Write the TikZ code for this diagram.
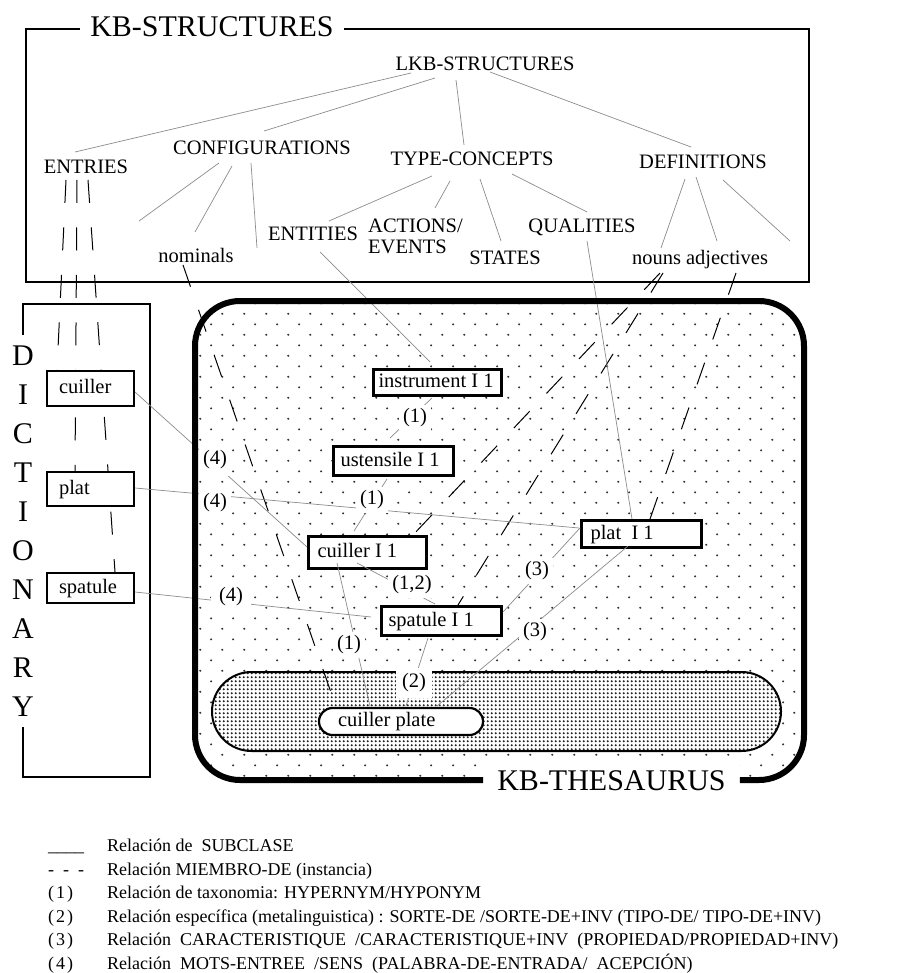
\documentclass[tikz,border=0pt]{standalone}
\usepackage{fontspec}
\setmainfont{Liberation Serif}
\newfontfamily\tnr{Liberation Serif}
\usetikzlibrary{calc,patterns.meta}
\tikzdeclarepattern{
  name=sparsedots,
  type=uncolored,
  bounding box={(0pt,0pt) and (21.7pt,21.4pt)},
  tile size={(21.7pt,21.4pt)},
  code={
    \fill (5.4pt,5.35pt) circle [radius=1.15pt];
    \fill (16.25pt,16.05pt) circle [radius=1.15pt];
  }
}
\tikzdeclarepattern{
  name=densedots,
  type=uncolored,
  bounding box={(0pt,0pt) and (3.7pt,3.7pt)},
  tile size={(3.7pt,3.7pt)},
  code={\fill (1.85pt,1.85pt) circle [radius=1.2pt];}
}
\pgfdeclarelayer{back}
\pgfdeclarelayer{mid}
\pgfsetlayers{back,mid,main}
\begin{document}
\begin{tikzpicture}[x=1pt,y=-1pt,
  lbl/.style={font=\tnr\fontsize{20.5pt}{24pt}\selectfont, inner sep=0pt, anchor=base},
  big/.style={font=\tnr\fontsize{30pt}{36pt}\selectfont, inner sep=0pt, anchor=base},
  gline/.style={draw=black!45, line width=0.7pt},
  dline/.style={draw=black, line width=1pt, dash pattern=on 23pt off 24.5pt},
  dictbox/.style={draw, line width=2.2pt, fill=white, font=\tnr\fontsize{20.5pt}{24pt}\selectfont,
    inner xsep=12pt, text height=14pt, text depth=4pt},
  tbox/.style={draw, line width=2.6pt, fill=white, font=\tnr\fontsize{20.5pt}{24pt}\selectfont,
    inner xsep=7pt, text height=14pt, text depth=4pt},
  rel/.style={fill=white, font=\tnr\fontsize{20.5pt}{24pt}\selectfont, inner xsep=4pt, inner ysep=4pt},
  leg/.style={font=\tnr\fontsize{18pt}{22pt}\selectfont, inner sep=0pt, anchor=base west},
]
\useasboundingbox (0,0) rectangle (906,973);
% ---------- background shapes ----------
\begin{pgfonlayer}{back}
\fill[white] (0,0) rectangle (906,973);
\fill[pattern=sparsedots, pattern color=black!80, rounded corners=45pt] (195,301) rectangle (804,780);
\fill[white, rounded corners=39.5pt] (212,672) rectangle (781,751);
\fill[pattern=densedots, pattern color=black!85, rounded corners=39.5pt] (212,672) rectangle (781,751);
\draw[line width=2pt, rounded corners=39.5pt] (212,672) rectangle (781,751);
\draw[line width=2.5pt] (26,29) rectangle (809,282);
\draw[line width=2.2pt] (23,335) -- (23,304) -- (150,304) -- (150,777) -- (23,777) -- (23,727);
\end{pgfonlayer}
% ---------- frame titles ----------
\node[big, fill=white, inner xsep=10pt, inner ysep=3pt] (kbs) at (212,37) {KB-STRUCTURES};
\node[big, fill=white, inner xsep=14pt, inner ysep=10pt] (kbt) at (611.5,790) {KB-THESAURUS};
\foreach \L [count=\i from 0] in {D,I,C,T,I,O,N,A,R,Y}
  \node[big] (dict\i) at (23,{365+39*\i}) {\L};
% ---------- KB-STRUCTURES tree ----------
\node[lbl] (lkb) at (485,71) {LKB-STRUCTURES};
\node[lbl] (entries) at (86,174) {ENTRIES};
\node[lbl] (config) at (262,155) {CONFIGURATIONS};
\node[lbl] (typec) at (472,166) {TYPE-CONCEPTS};
\node[lbl] (defs) at (703,169) {DEFINITIONS};
\node[lbl] (nomin) at (196,262) {nominals};
\node[lbl] (entit) at (313,241) {ENTITIES};
\node[lbl, anchor=base west] (actions) at (368,233) {ACTIONS/};
\node[lbl, anchor=base west] (events) at (368,254) {EVENTS};
\node[lbl] (states) at (505,265) {STATES};
\node[lbl] (quals) at (582,233) {QUALITIES};
\node[lbl] (nouns) at (656.5,265) {nouns};
\node[lbl] (adjs) at (727,265) {adjectives};
\coordinate (free1) at (139,221);
\coordinate (free2) at (257,248);
\coordinate (free3) at (790,241);
% ---------- dictionary boxes ----------
\node[dictbox, minimum height=35pt] (cuil) at (90.5,388.5) {\makebox[63pt][l]{cuiller}};
\node[dictbox, minimum height=34pt] (platd) at (90.5,489) {\makebox[63pt][l]{plat}};
\node[dictbox, minimum height=30pt] (spad) at (90.5,588) {\makebox[63pt][l]{spatule}};
% ---------- thesaurus boxes ----------
\node[tbox, inner xsep=5pt, minimum height=26.5pt] (inst) at (437.5,382.5) {\makebox[118pt][l]{instrument I 1}};
\node[tbox, minimum height=29.5pt] (ust) at (393.5,461) {\makebox[106pt][l]{ustensile I 1}};
\node[tbox, inner xsep=9pt, minimum height=32.5pt] (cui1) at (367.5,552.5) {\makebox[100pt][l]{cuiller I 1}};
\node[tbox, minimum height=29.5pt] (spa1) at (441.5,621) {\makebox[106pt][l]{spatule I 1}};
\node[tbox, inner xsep=9pt, minimum height=27.5pt] (plat1) at (641.5,534) {\makebox[102pt][l]{plat\ \ I 1}};
\node[draw, line width=2.2pt, fill=white, rounded corners=13.5pt, font=\tnr\fontsize{20.5pt}{24pt}\selectfont,
  inner xsep=19pt, minimum height=27pt, text height=14pt, text depth=4pt]
  (cplate) at (401,721.5) {\makebox[126pt][l]{cuiller plate}};
% ---------- dashed MIEMBRO-DE lines ----------
\begin{pgfonlayer}{mid}
\draw[dline] ($(entries.base)+(-20,6)$) -- ($(cuil.center)+(-33.5,-18.5)$);
\draw[dline] ($(entries.base)+(-9,6)$) -- ($(platd.center)+(-15.5,-18)$);
\draw[dline] ($(entries.base)+(2,6)$) -- ($(spad.center)+(24.5,-16)$);
\draw[dline] ($(nomin.base)+(-13,3)$) -- ($(cplate.center)+(-65,-14.5)$);
\draw[dline] ($(nouns.base)+(3.5,8)$) -- ($(cui1.center)+(45.5,-17.5)$);
\draw[dline] ($(nouns.base)+(6.5,8)$) -- ($(spa1.center)+(16.5,-16)$);
\draw[dline] ($(adjs.base)+(9,8)$) -- ($(plat1.center)+(8.5,-15)$);
\end{pgfonlayer}
% ---------- gray connectors ----------
\draw[gline] ($(lkb.base)+(-74,2)$) -- ($(entries.base)+(-11,-22)$);
\draw[gline] ($(lkb.base)+(-50,7)$) -- ($(config.base)+(2,-24)$);
\draw[gline] ($(lkb.base)+(-29,9)$) -- ($(typec.base)+(-8,-21)$);
\draw[gline] ($(lkb.base)+(5,1)$) -- ($(defs.base)+(-12,-22)$);
\draw[gline] ($(config.base)+(-43,8)$) -- (free1);
\draw[gline] ($(config.base)+(-30,11)$) -- ($(nomin.base)+(-1,-30)$);
\draw[gline] ($(config.base)+(-11,8)$) -- (free2);
\draw[gline] ($(typec.base)+(-40,10)$) -- ($(entit.base)+(16,-20)$);
\draw[gline] ($(typec.base)+(-22,15)$) -- ($(actions.base west)+(67,-25)$);
\draw[gline] ($(typec.base)+(8,13)$) -- ($(states.base)+(-4,-24)$);
\draw[gline] ($(typec.base)+(40,8)$) -- ($(quals.base)+(5,-21)$);
\draw[gline] ($(defs.base)+(-18,10)$) -- ($(nouns.base)+(4.5,-17)$);
\draw[gline] ($(defs.base)+(-7,8)$) -- ($(adjs.base)+(-10,-24)$);
\draw[gline] ($(defs.base)+(20,11)$) -- (free3);
\draw[gline] ($(entit.base)+(7,11)$) -- ($(inst.center)+(-7.5,-20.5)$);
\draw[gline] ($(inst.center)+(-5.5,15.5)$) -- ($(ust.center)+(-3.5,-23)$);
\draw[gline] ($(ust.center)+(-6.5,18)$) -- ($(cui1.center)+(-13.5,-21.5)$);
\draw[gline] ($(cui1.center)+(-10.5,10.5)$) -- ($(spa1.center)+(-6.5,-17)$);
\draw[gline] ($(cui1.center)+(-30.5,10.5)$) -- ($(cplate.center)+(-31,-15.5)$);
\draw[gline] ($(spa1.center)+(-13.5,17)$) -- ($(cplate.center)+(5,-15.5)$);
\draw[gline] ($(plat1.center)+(-61.5,-6)$) -- ($(spa1.center)+(61.5,-9)$);
\draw[gline] ($(plat1.center)+(-13.5,12)$) -- ($(cplate.center)+(36,-15.5)$);
\draw[gline] ($(quals.base)+(5,8)$) -- ($(plat1.center)+(-9.5,-15)$);
\draw[gline] ($(cuil.center)+(44.5,3.5)$) -- ($(cui1.center)+(-60.5,-5.5)$);
\draw[gline] ($(platd.center)+(44.5,-1)$) -- ($(plat1.center)+(-62.5,-6)$);
\draw[gline] ($(spad.center)+(44.5,4)$) -- ($(spa1.center)+(-70.5,-4)$);
% ---------- relation labels ----------
\node[rel] (r1a) at (415,418) {(1)};
\node[rel] (r1b) at (372,500) {(1)};
\node[rel] (r12) at (412,585) {(1,2)};
\node[rel] (r1c) at (349,645) {(1)};
\node[rel, inner xsep=6pt, inner ysep=6pt] (r2) at (414,683) {(2)};
\node[rel] (r3a) at (537,571) {(3)};
\node[rel] (r3b) at (535,632) {(3)};
\node[rel, inner ysep=7pt] (r4a) at (215,460) {(4)};
\node[rel, inner ysep=5pt] (r4b) at (215,503) {(4)};
\node[rel, inner xsep=8pt, inner ysep=5pt] (r4c) at (231,597) {(4)};
% ---------- thesaurus frame (drawn last, open at the title) ----------
\draw[line width=6pt, rounded corners=45pt] (kbt.west |- 0,780) -- (195,780) -- (195,301) -- (804,301) -- (804,780) -- (kbt.east |- 0,780);
% ---------- legend ----------
\node[leg] (s0) at (48,851.5) {\_\_\_\_};
\node[leg] (t0) at (107,851.5) {Relación de\ \ SUBCLASE};
\node[leg] (s1) at (48,875) {-\ \ -\ \ -};
\node[leg] (t1) at (107,875) {Relación MIEMBRO-DE (instancia)};
\node[leg] (s2) at (48,898.5) {(\kern2pt1\kern2pt)};
\node[leg] (t2) at (107,898.5) {Relación de taxonomia: HYPERNYM/HYPONYM};
\node[leg] (s3) at (48,922) {(\kern2pt2\kern2pt)};
\node[leg] (t3) at (107,922) {Relación específica (metalinguistica) : SORTE-DE /SORTE-DE+INV (TIPO-DE/ TIPO-DE+INV)};
\node[leg] (s4) at (48,945.5) {(\kern2pt3\kern2pt)};
\node[leg] (t4) at (107,945.5) {Relación\ \ CARACTERISTIQUE\ \ /CARACTERISTIQUE+INV\ \ (PROPIEDAD/PROPIEDAD+INV)};
\node[leg] (s5) at (48,969) {(\kern2pt4\kern2pt)};
\node[leg] (t5) at (107,969) {Relación\ \ MOTS-ENTREE\ \ /SENS\ \ (PALABRA-DE-ENTRADA/\ \ ACEPCIÓN)};
\end{tikzpicture}
\end{document}
